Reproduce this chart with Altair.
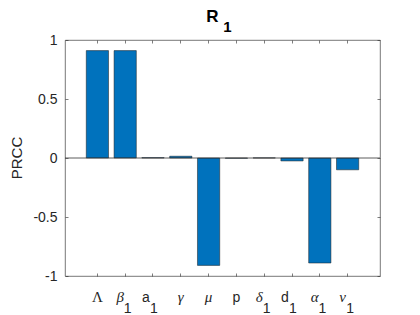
import altair as alt
import pandas as pd

labels = ["Λ", "β₁", "a₁", "γ", "μ", "p", "δ₁", "d₁", "α₁", "ν₁"]
base_labels = ["Λ", "β", "a", "γ", "μ", "p", "δ", "d", "α", "ν"]
sub_labels = ["", "1", "1", "", "", "", "1", "1", "1", "1"]
label_kind = ["serif", "italic", "sans", "italic", "italic", "sans", "italic", "sans", "italic", "italic"]
values = [0.91, 0.91, 0.003, 0.015, -0.91, -0.002, 0.001, -0.025, -0.89, -0.10]
y_ticks = [-1, -0.5, 0, 0.5, 1]

df = pd.DataFrame({"param": labels, "prcc": values, "base": base_labels,
                   "sub": sub_labels, "kind": label_kind})

W, H = 315, 236
GRAY = "#262626"
FONT = "Liberation Sans"
SERIF = "Liberation Serif"

xscale = alt.Scale(domain=labels, paddingInner=0.2, paddingOuter=0.765)
yscale = alt.Scale(domain=[-1, 1], nice=False, zero=False)

y_label_axis = alt.Axis(
    orient="left", title=None,
    values=y_ticks, ticks=False, domain=False, grid=False,
    labelFontSize=14, labelFont=FONT, labelColor=GRAY, labelPadding=8,
    labelExpr="replace(format(datum.value, ''), '−', '-')",
)

def tick_axis(orient, vals=None):
    kw = dict(orient=orient, title=None, labels=False, domain=False, grid=False,
              ticks=True, tickSize=3, tickColor=GRAY, tickWidth=0.6, offset=-3)
    if vals is not None:
        kw["values"] = vals
    return alt.Axis(**kw)

X = lambda axis: alt.X("param:N", sort=labels, scale=xscale, axis=axis)

bars = alt.Chart(df).mark_bar(
    color="#0072BD", stroke="#1a1a1a", strokeWidth=0.5
).encode(
    x=X(tick_axis("bottom")),
    y=alt.Y("prcc:Q", scale=yscale, axis=y_label_axis),
)

ticks2 = alt.Chart(df).mark_bar(opacity=0).encode(
    x=X(tick_axis("top")),
    y=alt.Y("prcc:Q", scale=yscale, axis=tick_axis("right", y_ticks)),
)
ticks3 = alt.Chart(df).mark_bar(opacity=0).encode(
    x=X(None),
    y=alt.Y("prcc:Q", scale=yscale, axis=tick_axis("left", y_ticks)),
)

zero = alt.Chart(pd.DataFrame({"z": [0]})).mark_rule(color="#333333", strokeWidth=0.8).encode(
    y=alt.Y("z:Q", scale=yscale, axis=None),
    x=alt.value(0), x2=alt.value(W),
)

def label_layer(filt, font, style, dx, size):
    return alt.Chart(df).transform_filter(filt).mark_text(
        font=font, fontStyle=style, fontSize=size, color=GRAY,
        baseline="alphabetic", align="center", dx=dx
    ).encode(x=X(None), y=alt.value(H + 26), text="base:N")

def sub_layer(filt, dx):
    return alt.Chart(df).transform_filter(filt).mark_text(
        font=FONT, fontSize=14, color=GRAY, baseline="alphabetic", align="center", dx=dx
    ).encode(x=X(None), y=alt.value(H + 37), text="sub:N")

lab_layers = [
    label_layer("datum.kind == 'serif' && datum.sub == ''", SERIF, "normal", 0, 15),
    label_layer("datum.kind == 'italic' && datum.sub == ''", SERIF, "italic", 0, 15),
    label_layer("datum.kind == 'italic' && datum.sub != ''", SERIF, "italic", -5, 15),
    label_layer("datum.kind == 'sans' && datum.sub == ''", FONT, "normal", 0, 14),
    label_layer("datum.kind == 'sans' && datum.sub != ''", FONT, "normal", -7, 14),
    sub_layer("datum.kind == 'italic' && datum.sub != ''", 2.5),
    sub_layer("datum.kind == 'sans' && datum.sub != ''", 1),
]

ytitle = alt.Chart(pd.DataFrame({"t": ["PRCC"]})).mark_text(
    font=FONT, fontSize=15, color=GRAY, angle=270, align="center", baseline="alphabetic"
).encode(x=alt.value(-43), y=alt.value(H / 2), text="t:N")

title_df = pd.DataFrame({"main": ["R"], "sub": ["1"]})
title_main = alt.Chart(title_df).mark_text(
    font=FONT, fontSize=17, fontWeight="bold", color="#000000",
    baseline="alphabetic", align="center", dx=-10
).encode(x=alt.value(W / 2), y=alt.value(-18), text="main:N")
title_sub = alt.Chart(title_df).mark_text(
    font=FONT, fontSize=15, fontWeight="bold", color="#000000",
    baseline="alphabetic", align="center", dx=5
).encode(x=alt.value(W / 2), y=alt.value(-8), text="sub:N")

chart = alt.layer(bars, ticks2, ticks3, zero, *lab_layers, ytitle, title_main, title_sub).resolve_axis(
    x="independent", y="independent"
).properties(
    width=W, height=H,
    autosize=alt.AutoSizeParams(type="none"),
    padding={"left": 57, "top": 32, "right": 32, "bottom": 40},
).configure_view(
    stroke="#555555", strokeWidth=0.8
)

chart.save("out.html", embed_options={"renderer": "svg", "actions": False})
